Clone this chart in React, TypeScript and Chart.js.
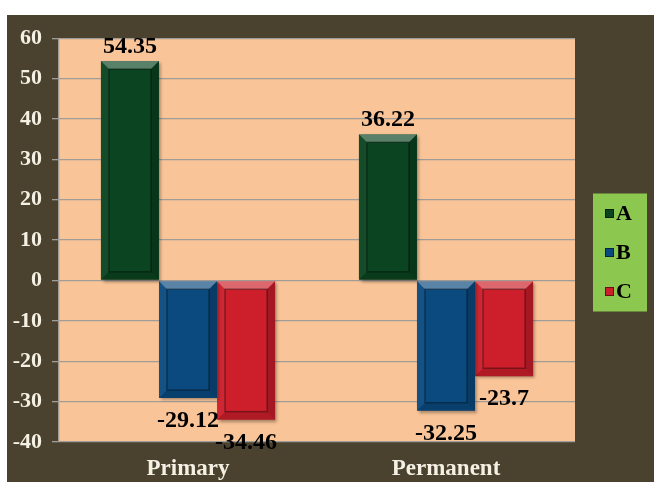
import React, { useEffect, useRef } from "react";
import { Chart, registerables } from "chart.js";

Chart.register(...registerables);

const categories = ["Primary", "Permanent"];
const seriesNames = ["A", "B", "C"];
const seriesA = [54.35, 36.22];
const seriesB = [-29.12, -32.25];
const seriesC = [-34.46, -23.7];
const faceColors = ["#0b4421", "#0b4a7f", "#cc1f2b"];
const yMin = -40;
const yMax = 60;
const yStep = 10;

const SERIF = "'Liberation Serif', 'Times New Roman', serif";

const plotBgPlugin = {
  id: "plotBg",
  beforeDraw(chart: any) {
    const { ctx, chartArea } = chart;
    ctx.save();
    ctx.fillStyle = "#f9c497";
    ctx.fillRect(chartArea.left, chartArea.top, chartArea.right - chartArea.left, chartArea.bottom - chartArea.top);
    ctx.restore();
  },
  beforeDatasetsDraw(chart: any) {
    const ctx = chart.ctx;
    ctx.save();
    ctx.shadowColor = "rgba(0,0,0,0.35)";
    ctx.shadowOffsetX = 2;
    ctx.shadowOffsetY = 2;
    ctx.shadowBlur = 3;
  },
  afterDatasetsDraw(chart: any) {
    const ctx = chart.ctx;
    ctx.restore();
    const b = 8;
    chart.data.datasets.forEach((ds: any, di: number) => {
      const meta = chart.getDatasetMeta(di);
      meta.data.forEach((el: any, i: number) => {
        const p = el.getProps(["x", "y", "base", "width"], true);
        const l = p.x - p.width / 2;
        const r = p.x + p.width / 2;
        const t = Math.min(p.y, p.base);
        const bt = Math.max(p.y, p.base);
        const poly = (pts: number[][], fill: string) => {
          ctx.beginPath();
          ctx.moveTo(pts[0][0], pts[0][1]);
          for (let k = 1; k < pts.length; k++) ctx.lineTo(pts[k][0], pts[k][1]);
          ctx.closePath();
          ctx.fillStyle = fill;
          ctx.fill();
        };
        ctx.save();
        poly([[l, t], [r, t], [r - b, t + b], [l + b, t + b]], "rgba(255,255,255,0.32)");
        poly([[r, t], [r, bt], [r - b, bt - b], [r - b, t + b]], "rgba(0,0,0,0.2)");
        poly([[l, bt], [r, bt], [r - b, bt - b], [l + b, bt - b]], "rgba(0,0,0,0.14)");
        poly([[l, t], [l + b, t + b], [l + b, bt - b], [l, bt]], "rgba(255,255,255,0.04)");
        ctx.strokeStyle = "rgba(0,0,0,0.38)";
        ctx.lineWidth = 1.4;
        ctx.strokeRect(l + b, t + b, r - l - 2 * b, bt - t - 2 * b);
        ctx.restore();

        // value label
        const v = ds.data[i];
        ctx.save();
        ctx.font = "bold 24px " + SERIF;
        ctx.fillStyle = "#000";
        ctx.textAlign = "center";
        ctx.textBaseline = "middle";
        const ly = v >= 0 ? p.y - 14 : p.y + 23;
        ctx.fillText(String(v), p.x, ly);
        ctx.restore();
      });
    });
  },
  afterDraw(chart: any) {
    const { ctx, chartArea } = chart;
    const boxW = 54;
    const boxH = 118;
    const bx = chartArea.right + 18;
    const by = chart.height / 2 + 4 - boxH / 2;
    ctx.save();
    ctx.fillStyle = "#8cc850";
    ctx.fillRect(bx, by, boxW, boxH);
    chart.data.datasets.forEach((ds: any, di: number) => {
      const cy = by + 20 + di * 39;
      const sx = bx + 12;
      ctx.fillStyle = ds.backgroundColor;
      ctx.fillRect(sx, cy - 4.5, 9, 9);
      ctx.strokeStyle = "rgba(0,0,0,0.5)";
      ctx.lineWidth = 1;
      ctx.strokeRect(sx + 0.5, cy - 4, 8, 8);
      ctx.fillStyle = "#000";
      ctx.font = "bold 22px " + SERIF;
      ctx.textAlign = "left";
      ctx.textBaseline = "middle";
      ctx.fillText(ds.label, sx + 11, cy + 1);
    });
    ctx.restore();
  },
};

export default function App() {
  const ref = useRef<HTMLCanvasElement | null>(null);
  useEffect(() => {
    if (!ref.current) return;
    const allSeries = [seriesA, seriesB, seriesC];
    const chart = new Chart(ref.current, {
      type: "bar",
      data: {
        labels: categories,
        datasets: allSeries.map((s, i) => ({
          label: seriesNames[i],
          data: s,
          backgroundColor: faceColors[i],
          borderWidth: 0,
          categoryPercentage: 0.675,
          barPercentage: 1,
        })),
      },
      options: {
        animation: false,
        responsive: true,
        maintainAspectRatio: false,
        layout: { padding: { top: 19, right: 79, bottom: 0, left: 0 } },
        plugins: {
          legend: { display: false },
          tooltip: { enabled: false },
        },
        scales: {
          x: {
            grid: { display: false, drawTicks: false },
            border: { display: false },
            ticks: {
              color: "#f4f0e4",
              font: { family: SERIF, size: 23, weight: "bold" },
              padding: 13,
            },
            afterFit(s: any) {
              s.height = 40;
            },
          },
          y: {
            min: yMin,
            max: yMax,
            ticks: {
              stepSize: yStep,
              color: "#f4f0e4",
              font: { family: SERIF, size: 22, weight: "bold" },
              padding: 10,
            },
            grid: { color: "#a09c98", lineWidth: 1.3, tickLength: 7, drawTicks: true, tickColor: "#a09c98" },
            border: { display: true, color: "#a09c98", width: 1.3 },
            afterFit(s: any) {
              s.width = 52;
            },
          },
        },
      },
      plugins: [plotBgPlugin],
    });
    return () => chart.destroy();
  }, []);
  return (
    <div
      style={{
        position: "absolute",
        left: 7,
        top: 15,
        width: 647,
        height: 467,
        background: "#4a422e",
      }}
    >
      <canvas ref={ref} />
    </div>
  );
}
